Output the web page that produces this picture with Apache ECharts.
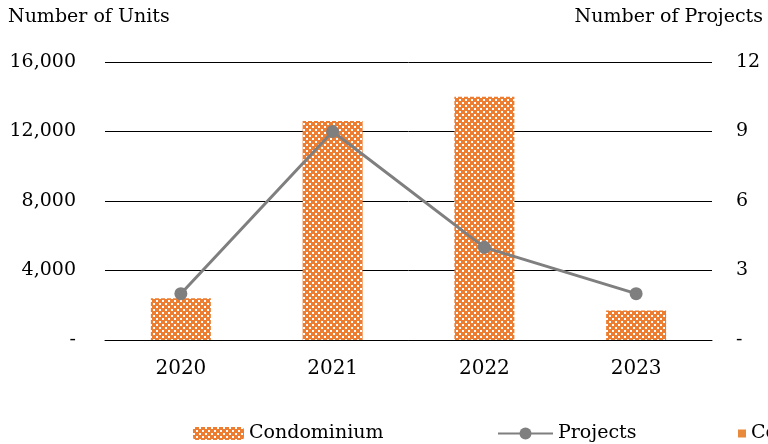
<!DOCTYPE html>
<html>
<head>
<meta charset="utf-8">
<script src="https://cdn.jsdelivr.net/npm/echarts@6/dist/echarts.min.js"></script>
<style>
html,body{margin:0;padding:0;background:#fff;}
#chart{width:768px;height:444px;}
</style>
</head>
<body>
<div id="chart"></div>
<script>
var categories = ['2020', '2021', '2022', '2023'];
var condoUnits = [2400, 12600, 14000, 1700];
var projects = [2, 9, 4, 2];
var leftTicks = [0, 4000, 8000, 12000, 16000];
var rightTicks = [0, 3, 6, 9, 12];

var FONT = 'DejaVu Serif';

function makePattern() {
  var c = document.createElement('canvas');
  c.width = 6; c.height = 6;
  var g = c.getContext('2d');
  g.fillStyle = '#ED7D31';
  g.fillRect(0, 0, 6, 6);
  g.fillStyle = '#ffffff';
  g.fillRect(0, 0, 2, 2);
  g.fillRect(3, 3, 2, 2);
  return c;
}
var pattern = { image: makePattern(), repeat: 'repeat' };

var chart = echarts.init(document.getElementById('chart'));
chart.setOption({
  animation: false,
  backgroundColor: '#ffffff',
  textStyle: { fontFamily: FONT },
  grid: { left: 105, right: 56, top: 62, bottom: 104, containLabel: false },
  graphic: [
    { type: 'text', left: 8, top: 8, style: { text: 'Number of Units', font: '19px "DejaVu Serif"', fill: '#000' } },
    { type: 'text', right: 5, top: 8, style: { text: 'Number of Projects', font: '19px "DejaVu Serif"', fill: '#000' } }
  ],
  legend: [
    { data: ['Condominium'], left: 188, top: 419, itemWidth: 51, itemHeight: 13, itemGap: 6,
      textStyle: { fontFamily: FONT, fontSize: 19, color: '#000' } },
    { data: ['Projects'], left: 492, top: 419, itemWidth: 55, itemHeight: 15,
      textStyle: { fontFamily: FONT, fontSize: 19, color: '#000' } },
    { data: [{ name: 'Condominium Units', icon: 'rect' }], left: 733, top: 419, itemWidth: 8, itemHeight: 8,
      textStyle: { fontFamily: FONT, fontSize: 19, color: '#000' } }
  ],
  xAxis: {
    type: 'category',
    data: categories,
    axisLine: { show: true, lineStyle: { color: '#000', width: 1 } },
    axisTick: { show: false },
    axisLabel: { fontFamily: FONT, fontSize: 20, color: '#000', margin: 19 }
  },
  yAxis: [
    {
      type: 'value', min: 0, max: 16000, interval: 4000,
      axisLine: { show: false }, axisTick: { show: false },
      splitLine: { show: true, lineStyle: { color: '#000', width: 1 } },
      axisLabel: {
        fontFamily: FONT, fontSize: 19, color: '#000', margin: 29,
        formatter: function (v) { return v === 0 ? '-' : v.toLocaleString('en-US'); }
      }
    },
    {
      type: 'value', min: 0, max: 12, interval: 3,
      axisLine: { show: false }, axisTick: { show: false },
      splitLine: { show: false },
      axisLabel: {
        fontFamily: FONT, fontSize: 19, color: '#000', margin: 24,
        formatter: function (v) { return v === 0 ? '-' : String(v); }
      }
    }
  ],
  series: [
    {
      name: 'Condominium', type: 'bar', data: condoUnits, barWidth: 60,
      itemStyle: { color: pattern }
    },
    {
      name: 'Projects', type: 'line', yAxisIndex: 1, data: projects,
      symbol: 'circle', symbolSize: 13,
      lineStyle: { color: '#7F7F7F', width: 3 },
      itemStyle: { color: '#7F7F7F' }
    },
    {
      name: 'Condominium Units', type: 'scatter', data: [],
      itemStyle: { color: '#E46C0A' }
    }
  ]
});
</script>
</body>
</html>
